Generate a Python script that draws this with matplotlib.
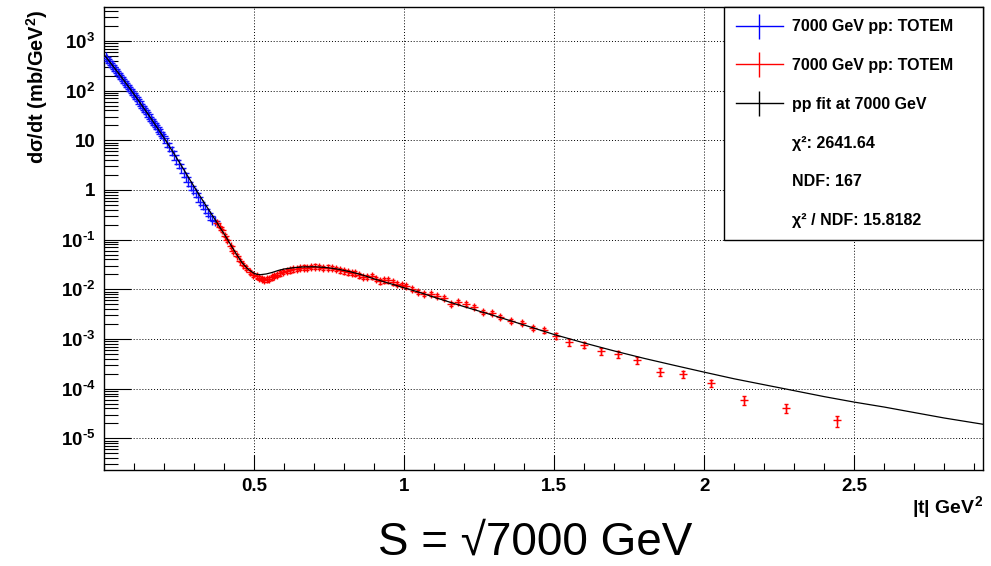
import matplotlib
matplotlib.use("Agg")
import matplotlib.pyplot as plt
from matplotlib.ticker import FixedLocator, FixedFormatter, LogLocator, NullFormatter, MultipleLocator
from matplotlib.lines import Line2D

# ---------------- data ----------------
blue_t = [0.005, 0.010, 0.015, 0.020, 0.025, 0.030, 0.035, 0.040, 0.045, 0.050,
          0.055, 0.060, 0.065, 0.070, 0.075, 0.080, 0.085, 0.090, 0.095, 0.100,
          0.105, 0.110, 0.115, 0.120, 0.125, 0.130, 0.135, 0.140, 0.145, 0.150,
          0.155, 0.160, 0.165, 0.170, 0.175, 0.180, 0.185, 0.190, 0.195, 0.200,
          0.208, 0.216, 0.224, 0.232, 0.240, 0.248, 0.256, 0.264, 0.272, 0.280,
          0.288, 0.296, 0.304, 0.312, 0.320, 0.328, 0.336, 0.344, 0.352, 0.360, 0.368]
blue_y = [479, 437, 398, 363, 331, 302, 275, 251, 229, 209,
          190, 174, 158, 144, 132, 120, 110, 100, 90.5, 81.8,
          74.1, 67.0, 60.6, 54.8, 49.6, 44.9, 40.6, 36.7, 33.2, 30.1,
          27.2, 24.6, 22.3, 20.1, 18.2, 16.5, 14.9, 13.5, 12.2, 11.0,
          8.9, 7.4, 6.0, 5.0, 4.07, 3.39, 2.75, 2.24, 1.82, 1.48,
          1.23, 1.00, 0.87, 0.708, 0.575, 0.50, 0.407, 0.339, 0.295, 0.251, 0.240]

red_t = [0.375, 0.386, 0.391, 0.402, 0.408, 0.421, 0.430, 0.441, 0.452, 0.461,
         0.472, 0.486, 0.497, 0.508, 0.517, 0.525, 0.533, 0.541, 0.550, 0.558,
         0.567, 0.575, 0.586, 0.597, 0.608, 0.619, 0.630, 0.641, 0.652, 0.664,
         0.675, 0.688, 0.702, 0.716, 0.730, 0.744, 0.758, 0.772, 0.786, 0.800,
         0.813, 0.825, 0.836, 0.850, 0.863, 0.877, 0.891, 0.905, 0.919, 0.933,
         0.947, 0.961, 0.975, 0.991, 1.006, 1.025, 1.047, 1.066, 1.088, 1.108,
         1.132, 1.155, 1.180, 1.205, 1.232, 1.263, 1.291, 1.319, 1.356, 1.391,
         1.430, 1.466, 1.505, 1.550, 1.600, 1.656, 1.711, 1.775, 1.851, 1.930,
         2.023, 2.132, 2.272, 2.443]
red_y = [0.2213, 0.1791, 0.1531, 0.1202, 0.0964, 0.0729, 0.0579, 0.0475, 0.0380, 0.0313,
         0.0269, 0.0224, 0.0197, 0.0182, 0.0170, 0.0162, 0.0155, 0.0158, 0.0164, 0.0174,
         0.0186, 0.0195, 0.0209, 0.0224, 0.0234, 0.0240, 0.0251, 0.0257, 0.0269, 0.0275,
         0.0269, 0.0282, 0.0288, 0.0282, 0.0269, 0.0275, 0.0269, 0.0257, 0.0240, 0.0229,
         0.0219, 0.0214, 0.0209, 0.0191, 0.0178, 0.0180, 0.0182, 0.0162, 0.0145, 0.0151,
         0.0151, 0.0138, 0.0129, 0.0124, 0.0115, 0.0102, 0.00871, 0.00813, 0.00820, 0.00746,
         0.00676, 0.00513, 0.00550, 0.00513, 0.00447, 0.00347, 0.00339, 0.00275, 0.00229, 0.00211,
         0.00168, 0.00150, 0.00114, 0.000871, 0.000767, 0.000569, 0.000490, 0.000375, 0.000219, 0.000194,
         0.000129, 5.90e-5, 4.15e-5, 2.31e-5]
red_rel_err = [0.06, 0.06, 0.06, 0.06, 0.06, 0.06, 0.06, 0.06, 0.06, 0.06,
               0.08, 0.08, 0.08, 0.10, 0.10, 0.10, 0.10, 0.10, 0.10, 0.10,
               0.10, 0.10, 0.10, 0.10, 0.10, 0.10, 0.10, 0.10, 0.10, 0.10,
               0.10, 0.10, 0.10, 0.10, 0.10, 0.10, 0.10, 0.10, 0.10, 0.10,
               0.10, 0.10, 0.10, 0.10, 0.10, 0.10, 0.10, 0.10, 0.10, 0.10,
               0.10, 0.10, 0.10, 0.10, 0.09, 0.09, 0.09, 0.09, 0.09, 0.09,
               0.09, 0.09, 0.09, 0.09, 0.09, 0.09, 0.09, 0.09, 0.10, 0.10,
               0.11, 0.11, 0.14, 0.15, 0.13, 0.15, 0.16, 0.16, 0.17, 0.17,
               0.16, 0.20, 0.21, 0.25]

fit_t = [0.00, 0.05, 0.10, 0.15, 0.20, 0.25, 0.30, 0.33, 0.36, 0.38,
         0.40, 0.42, 0.44, 0.46, 0.48, 0.50, 0.51, 0.52, 0.54, 0.56,
         0.58, 0.60, 0.63, 0.66, 0.70, 0.74, 0.78, 0.82, 0.86, 0.90,
         0.95, 1.00, 1.05, 1.10, 1.20, 1.30, 1.40, 1.50, 1.60, 1.70,
         1.80, 1.90, 2.00, 2.10, 2.20, 2.30, 2.40, 2.50, 2.60, 2.70,
         2.80, 2.93]
fit_y = [524.8, 213.8, 83.2, 30.9, 10.96, 3.63, 1.148, 0.589, 0.309, 0.1995,
         0.1288, 0.0813, 0.0513, 0.0339, 0.0251, 0.0209, 0.0200, 0.0197, 0.0204, 0.0219,
         0.0240, 0.0257, 0.0272, 0.0282, 0.0285, 0.0275, 0.0254, 0.0226, 0.0195, 0.0162,
         0.0132, 0.01072, 0.00871, 0.00692, 0.00447, 0.00295, 0.00191, 0.00123, 0.000832, 0.000575,
         0.000407, 0.000295, 0.000215, 0.000158, 0.000120, 9.12e-5, 6.92e-5, 5.37e-5, 4.27e-5, 3.31e-5,
         2.57e-5, 1.92e-5]

x_major = [0.5, 1.0, 1.5, 2.0, 2.5]
x_labels = ["0.5", "1", "1.5", "2", "2.5"]
y_major = [1e-5, 1e-4, 1e-3, 1e-2, 1e-1, 1, 10, 1e2, 1e3]
y_labels = [r"$10^{\text{-}5}$", r"$10^{\text{-}4}$", r"$10^{\text{-}3}$", r"$10^{\text{-}2}$",
            r"$10^{\text{-}1}$", "1", "10", "$10^{2}$", "$10^{3}$"]

legend_labels = ["7000 GeV pp: TOTEM", "7000 GeV pp: TOTEM", "pp fit at 7000 GeV",
                 "χ²: 2641.64", "NDF: 167", "χ² / NDF: 15.8182"]

# ---------------- style ----------------
plt.rcParams["font.family"] = ["Liberation Sans", "DejaVu Sans"]
plt.rcParams["font.weight"] = "bold"
plt.rcParams["mathtext.fontset"] = "custom"
plt.rcParams["mathtext.rm"] = "Liberation Sans:bold"
plt.rcParams["mathtext.bf"] = "Liberation Sans:bold"
plt.rcParams["mathtext.it"] = "Liberation Sans:bold"
plt.rcParams["mathtext.default"] = "rm"

W, H = 991, 566
fig = plt.figure(figsize=(W / 100, H / 100), dpi=100)
L, R, T, B = 104.3, 983.3, 7.3, 470.0
ax = fig.add_axes([L / W, 1 - B / H, (R - L) / W, (B - T) / H])

ax.set_yscale("log")
ax.set_xlim(0.0, 2.93)
ax.set_ylim(2.31e-6, 4750)

# fit line
ax.plot(fit_t, fit_y, color="black", lw=0.9, zorder=4)
# blue data
ax.plot(blue_t, blue_y, ls="none", marker="+", ms=7, mew=1.0, color="#1010ff", zorder=3)
# red data
red_err = [y * e for y, e in zip(red_y, red_rel_err)]
ax.errorbar(red_t, red_y, yerr=red_err, fmt="+", ms=6, mew=1.0, color="#ff0000",
            ecolor="#ff0000", elinewidth=1.0, capsize=1.5, capthick=1.0, zorder=3)

# axes / ticks
ax.xaxis.set_major_locator(FixedLocator(x_major))
ax.xaxis.set_major_formatter(FixedFormatter(x_labels))
ax.xaxis.set_minor_locator(MultipleLocator(0.1))
ax.yaxis.set_major_locator(FixedLocator(y_major))
ax.yaxis.set_major_formatter(FixedFormatter(y_labels))
ax.yaxis.set_minor_locator(LogLocator(base=10, subs=range(2, 10), numticks=100))
ax.yaxis.set_minor_formatter(NullFormatter())

ax.tick_params(axis="x", which="major", direction="in", length=10.8, width=0.8,
               labelsize=13.5, pad=6, top=False)
ax.tick_params(axis="x", which="minor", direction="in", length=5, width=0.8, top=False)
ax.tick_params(axis="y", which="major", direction="in", length=19.5, width=0.8,
               labelsize=13.5, pad=6.5, right=False)
ax.tick_params(axis="y", which="minor", direction="in", length=10, width=0.8, right=False)
for s in ax.spines.values():
    s.set_linewidth(1.0)

ax.grid(True, which="major", color="black", linestyle=(0, (1, 2)), linewidth=0.7)

# legend
handles = [Line2D([], [], color="#0000ff", lw=1, marker="|", ms=18, mew=1),
           Line2D([], [], color="#ff0000", lw=1, marker="|", ms=18, mew=1),
           Line2D([], [], color="black", lw=1, marker="|", ms=18, mew=1),
           Line2D([], [], ls="none"),
           Line2D([], [], ls="none"),
           Line2D([], [], ls="none")]
leg = ax.legend(handles, legend_labels, loc="upper right",
                bbox_to_anchor=((724 - L) / (R - L), 0, (R - 724) / (R - L), 1),
                mode="expand", borderaxespad=0, borderpad=0.75, labelspacing=1.49,
                handlelength=2.94, handletextpad=0.56, fontsize=11.5, frameon=True,
                fancybox=False, edgecolor="black", framealpha=1)
leg.get_frame().set_linewidth(1.0)
leg.set_zorder(10)

# titles
fig.text(37 / W, 1 - 10 / H, "dσ/dt (mb/GeV$^{2}$)", rotation=90, ha="center", va="top",
         fontsize=14.4, fontweight="bold")
fig.text(983 / W, 1 - 513 / H, "|t| GeV$^{2}$", ha="right", va="baseline",
         fontsize=14, fontweight="bold")
fig.text(535 / W, 1 - 555 / H, "S = √7000 GeV", ha="center", va="baseline",
         fontsize=33, fontweight="normal")

fig.savefig("out.png", dpi=100)
